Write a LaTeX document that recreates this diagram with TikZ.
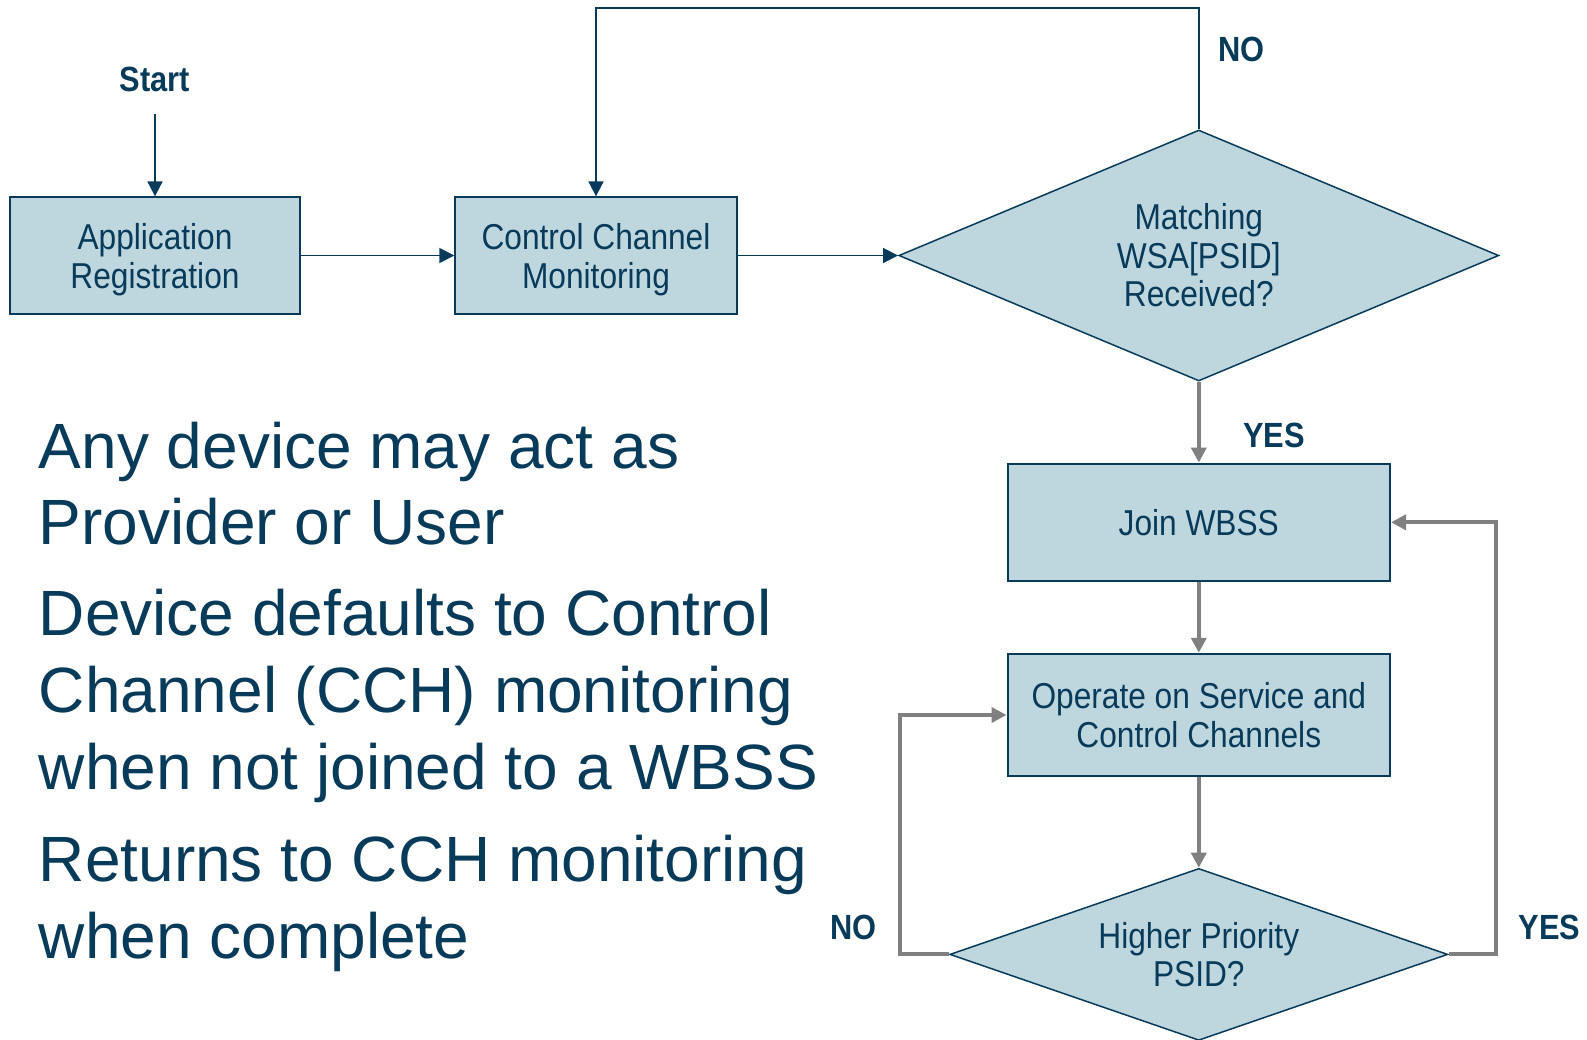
\documentclass[tikz,border=0pt]{standalone}
\usepackage{fontspec}
\setmainfont{Liberation Sans}
\newfontfamily\narrowfont{Liberation Sans}[FakeStretch=0.88]
\usetikzlibrary{shapes.geometric,arrows.meta}
\definecolor{navy}{RGB}{8,58,90}
\definecolor{boxfill}{RGB}{190,215,223}
\definecolor{flowgray}{RGB}{128,128,128}
\begin{document}
% one unit = one pixel of a 1587 x 1040 canvas (0.5pt), y growing downward;
% node sizes are lengths, so they are given in pt (half the pixel value)
\begin{tikzpicture}[x=0.5pt,y=-0.5pt,
  procbox/.style={draw=navy,line width=1pt,fill=boxfill,text=navy,
    inner sep=0pt,align=center,font=\narrowfont\fontsize{18}{19.25}\selectfont},
  decision/.style={diamond,draw=navy,line width=0.75pt,fill=boxfill,text=navy,
    inner sep=0pt,align=center,font=\narrowfont\fontsize{18}{19.25}\selectfont},
  tag/.style={text=navy,font=\narrowfont\bfseries\fontsize{17.5}{20}\selectfont},
  bigtext/.style={text=navy,anchor=base west,inner sep=0pt,
    font=\fontsize{32}{38}\selectfont},
  darkflow/.style={draw=navy,line width=0.9pt,-{Triangle[length=7.5pt,width=7.5pt]}},
  grayflow/.style={draw=flowgray,line width=2pt,-{Triangle[length=7.5pt,width=7.5pt]}}]
\useasboundingbox (0,0) rectangle (1587,1040);

% process boxes and decisions
\node[procbox,minimum width=144.75pt,minimum height=58.15pt] (appreg) at (155,255.5)
  {\rule{0pt}{17pt}Application\\Registration};
\node[procbox,minimum width=140.7pt,minimum height=58.15pt] (ccm) at (596,255.5)
  {\rule{0pt}{17pt}Control Channel\\Monitoring};
\node[decision,aspect=2.4,minimum width=300pt,minimum height=125.5pt] (d1) at (1198.8,255.5)
  {Matching\\WSA[PSID]\\Received?};
\node[procbox,minimum width=191.3pt,minimum height=58.75pt] (join) at (1198.8,522.3)
  {Join WBSS};
\node[procbox,minimum width=191.3pt,minimum height=61.25pt] (op) at (1198.8,715)
  {Operate on Service and\\Control Channels};
\node[decision,aspect=2.9,minimum width=249pt,minimum height=86pt] (d2) at (1198.8,954.4)
  {Higher Priority\\PSID?};

% labels
\node[tag] (start) at (155,79) {Start};
\node[tag] (no1) at (1241.8,49.6) {NO};
\node[tag] (yes1) at (1274.2,435.2) {YES};
\node[tag] (no2) at (853.2,927) {NO};
\node[tag] (yes2) at (1549.5,927) {YES};

% routing points
\coordinate (startpt) at (155,114);
\coordinate (topy) at (0,8);
\coordinate (leftx) at (899.8,0);
\coordinate (rightx) at (1495.9,0);

% dark connectors
\draw[darkflow] (startpt) -- (appreg.north);
\draw[darkflow] (appreg.east) -- (ccm.west);
\draw[darkflow] (ccm.east) -- (d1.west);
\draw[darkflow] (d1.north) -- (d1.north |- topy) -| (ccm.north);

% gray connectors
\draw[grayflow] (d1.south) -- (join.north);
\draw[grayflow] (join.south) -- (op.north);
\draw[grayflow] (op.south) -- (d2.north);
\draw[grayflow] (d2.west) -- (d2.west -| leftx) |- (op.west);
\draw[grayflow] (d2.east) -- (d2.east -| rightx) |- (join.east);

% explanatory text
\node[bigtext] (t1) at (38.5,468) {Any device may act as};
\node[bigtext] (t2) at (38.5,544) {Provider or User};
\node[bigtext] (t3) at (38.5,635) {Device defaults to Control};
\node[bigtext] (t4) at (38.5,712) {Channel (CCH) monitoring};
\node[bigtext] (t5) at (38.5,789) {when not joined to a WBSS};
\node[bigtext] (t6) at (38.5,881) {Returns to CCH monitoring};
\node[bigtext] (t7) at (38.5,958) {when complete};
\end{tikzpicture}
\end{document}
